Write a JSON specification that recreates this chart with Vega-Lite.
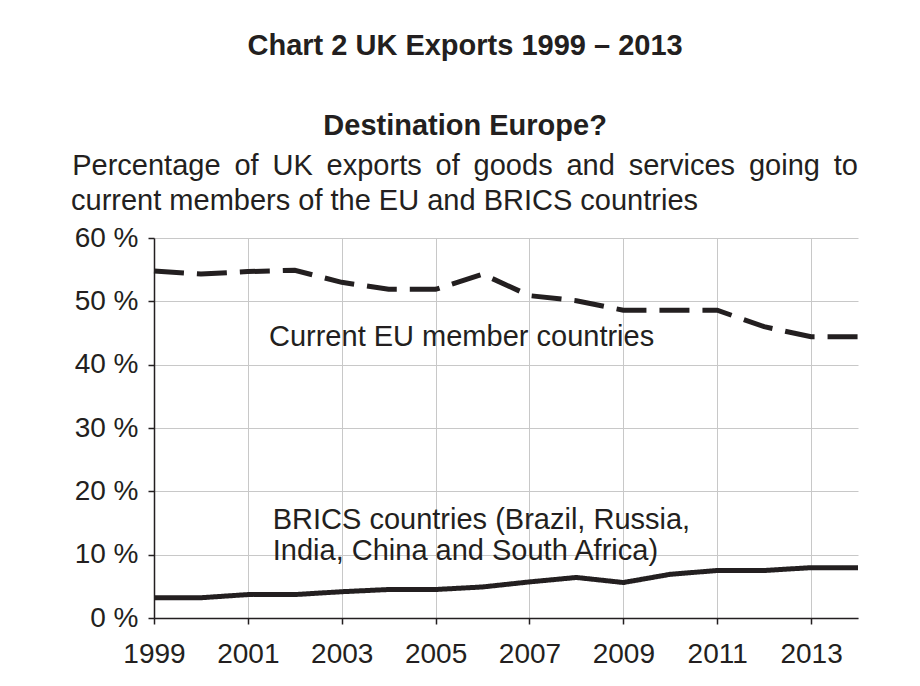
{
  "$schema": "https://vega.github.io/schema/vega-lite/v6.json",
  "width": 704,
  "height": 380,
  "autosize": {"type": "pad"},
  "padding": {"left": 71, "top": 32, "right": 42, "bottom": 10},
  "background": "white",
  "config": {
    "font": "Liberation Sans",
    "view": {"stroke": null}
  },
  "title": {
    "text": ["Chart 2 UK Exports 1999 – 2013", "Destination Europe?"],
    "subtitle": [
      "Percentage \u2009of \u2009UK \u2009exports \u2009of \u2009goods \u2009and \u2009services \u2009going \u2009to",
      "current members of the EU and BRICS countries\u00a0\u00a0\u00a0\u00a0\u00a0\u00a0\u00a0\u00a0\u00a0\u00a0\u00a0\u00a0\u00a0\u00a0\u00a0\u00a0\u00a0\u00a0\u00a0\u00a0\u200b"
    ],
    "anchor": "middle",
    "frame": "bounds",
    "dx": -6,
    "font": "Liberation Sans",
    "fontSize": 29,
    "fontWeight": "bold",
    "lineHeight": 80,
    "color": "#231f20",
    "subtitleFont": "Liberation Sans",
    "subtitleFontSize": 29,
    "subtitleFontWeight": "normal",
    "subtitleLineHeight": 35,
    "subtitleColor": "#231f20",
    "subtitlePadding": 11,
    "offset": 8
  },
  "datasets": {
    "series": [
      {"year": 1999, "series": "EU", "share": 54.8},
      {"year": 2000, "series": "EU", "share": 54.3},
      {"year": 2001, "series": "EU", "share": 54.7},
      {"year": 2002, "series": "EU", "share": 54.9},
      {"year": 2003, "series": "EU", "share": 53.0},
      {"year": 2004, "series": "EU", "share": 51.9},
      {"year": 2005, "series": "EU", "share": 51.9},
      {"year": 2006, "series": "EU", "share": 54.3},
      {"year": 2007, "series": "EU", "share": 50.9},
      {"year": 2008, "series": "EU", "share": 50.1},
      {"year": 2009, "series": "EU", "share": 48.6},
      {"year": 2010, "series": "EU", "share": 48.6},
      {"year": 2011, "series": "EU", "share": 48.6},
      {"year": 2012, "series": "EU", "share": 46.0},
      {"year": 2013, "series": "EU", "share": 44.4},
      {"year": 2014, "series": "EU", "share": 44.4},
      {"year": 1999, "series": "BRICS", "share": 3.2},
      {"year": 2000, "series": "BRICS", "share": 3.2},
      {"year": 2001, "series": "BRICS", "share": 3.7},
      {"year": 2002, "series": "BRICS", "share": 3.7},
      {"year": 2003, "series": "BRICS", "share": 4.15},
      {"year": 2004, "series": "BRICS", "share": 4.5},
      {"year": 2005, "series": "BRICS", "share": 4.5},
      {"year": 2006, "series": "BRICS", "share": 4.9},
      {"year": 2007, "series": "BRICS", "share": 5.7},
      {"year": 2008, "series": "BRICS", "share": 6.4},
      {"year": 2009, "series": "BRICS", "share": 5.6},
      {"year": 2010, "series": "BRICS", "share": 6.9},
      {"year": 2011, "series": "BRICS", "share": 7.5},
      {"year": 2012, "series": "BRICS", "share": 7.5},
      {"year": 2013, "series": "BRICS", "share": 7.95},
      {"year": 2014, "series": "BRICS", "share": 7.95}
    ],
    "labels": [
      {"year": 2001.45, "share": 43.0, "label": ["Current EU member countries"]},
      {"year": 2001.53, "share": 14.06, "label": ["BRICS countries (Brazil, Russia,", "India, China and South Africa)"]}
    ]
  },
  "layer": [
    {
      "data": {"name": "series"},
      "mark": {"type": "line", "strokeWidth": 5, "color": "#231f20", "strokeCap": "butt", "strokeJoin": "miter"},
      "encoding": {
        "x": {
          "field": "year",
          "type": "quantitative",
          "scale": {"domain": [1999, 2014], "nice": false, "zero": false},
          "axis": {
            "title": null,
            "values": [1999, 2001, 2003, 2005, 2007, 2009, 2011, 2013],
            "format": "d",
            "grid": true,
            "gridColor": "#c8c8c8",
            "gridWidth": 1,
            "domainColor": "#231f20",
            "domainWidth": 1.5,
            "tickColor": "#231f20",
            "tickWidth": 1.5,
            "tickSize": 6,
            "labelFontSize": 28,
            "labelColor": "#231f20",
            "labelPadding": 16,
            "labelFlush": false
          }
        },
        "y": {
          "field": "share",
          "type": "quantitative",
          "scale": {"domain": [0, 60], "nice": false},
          "axis": {
            "title": null,
            "values": [0, 10, 20, 30, 40, 50, 60],
            "labelExpr": "datum.value + ' %'",
            "grid": true,
            "gridColor": "#c8c8c8",
            "gridWidth": 1,
            "domainColor": "#231f20",
            "domainWidth": 1.5,
            "tickColor": "#231f20",
            "tickWidth": 1.5,
            "tickSize": 6,
            "labelFontSize": 28,
            "labelColor": "#231f20",
            "labelPadding": 10
          }
        },
        "strokeDash": {
          "field": "series",
          "type": "nominal",
          "scale": {"domain": ["EU", "BRICS"], "range": [[30, 13], [1, 0]]},
          "legend": null
        }
      }
    },
    {
      "data": {"name": "labels"},
      "mark": {"type": "text", "align": "left", "baseline": "alphabetic", "fontSize": 29, "lineHeight": 31, "color": "#231f20"},
      "encoding": {
        "x": {"field": "year", "type": "quantitative"},
        "y": {"field": "share", "type": "quantitative"},
        "text": {"field": "label"}
      }
    }
  ]
}
